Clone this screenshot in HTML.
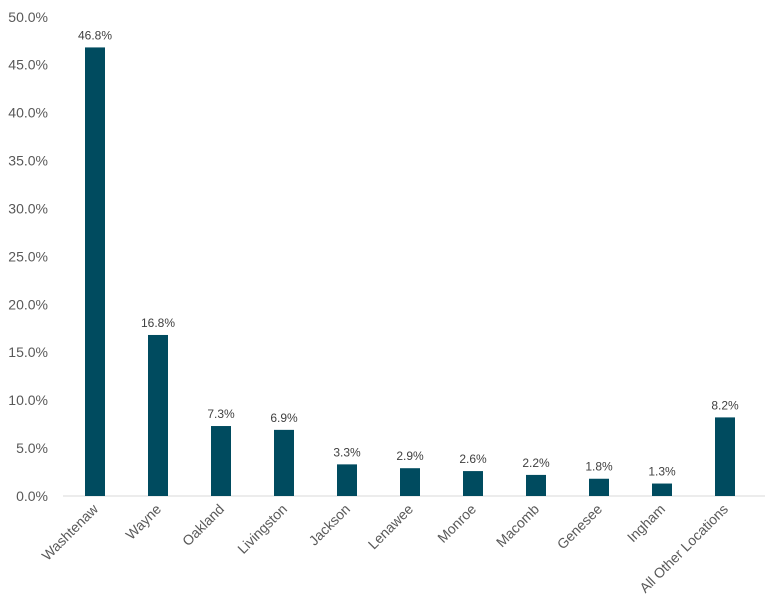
<!DOCTYPE html>
<html><head><meta charset="utf-8"><style>
body{margin:0;background:#fff;}
svg{display:block;font-family:"Liberation Sans",Calibri,sans-serif;}
</style></head><body>
<svg id="chart" width="772" height="616"></svg>
<script>
const categories=["Washtenaw","Wayne","Oakland","Livingston","Jackson","Lenawee","Monroe","Macomb","Genesee","Ingham","All Other Locations"];
const values=[46.8,16.8,7.3,6.9,3.3,2.9,2.6,2.2,1.8,1.3,8.2];
const ticks=[0,5,10,15,20,25,30,35,40,45,50];
const NS="http://www.w3.org/2000/svg";
const svg=document.getElementById("chart");
const y0=496,pxPer=9.585;
const yS=v=>y0-v*pxPer;
const xS=i=>95+i*63;
function mk(t,a,p){const e=document.createElementNS(NS,t);for(const k in a)e.setAttribute(k,a[k]);(p||svg).appendChild(e);return e;}
ticks.forEach(t=>{
  const e=mk("text",{x:48,y:yS(t)+5,"text-anchor":"end","font-size":"14","fill":"#595959"});
  
  
  e.textContent=t.toFixed(1)+"%";
});
const ax=mk("line",{x1:63,x2:765,y1:y0,y2:y0,stroke:"#d9d9d9","stroke-width":1});


values.forEach((v,i)=>{
  const b=mk("rect",{x:xS(i)-10,y:yS(v),width:20,height:y0-yS(v),fill:"#004b5f"});
  
  
  const l=mk("text",{x:xS(i),y:yS(v)-8,"text-anchor":"middle","font-size":"12","fill":"#404040"});
  
  
  l.textContent=v.toFixed(1)+"%";
  const c=mk("text",{x:xS(i)+4,y:y0+14,"text-anchor":"end","font-size":"14","fill":"#595959",transform:`rotate(-45 ${xS(i)+4} ${y0+14})`});
  
  
  c.textContent=categories[i];
});
</script>
</body></html>
